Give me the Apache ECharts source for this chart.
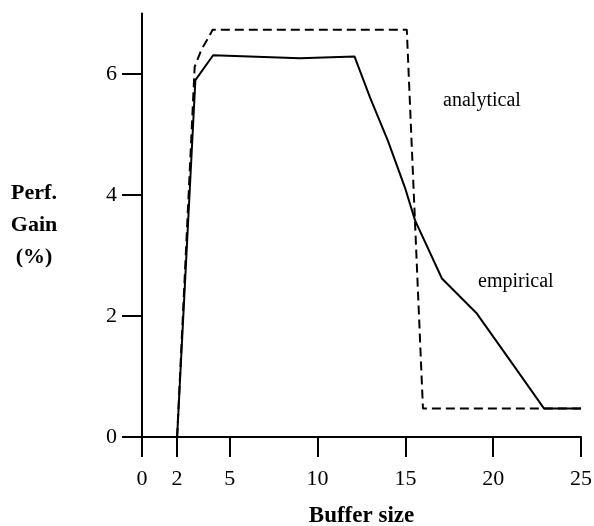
<!DOCTYPE html>
<html>
<head>
<meta charset="utf-8">
<script src="https://cdn.jsdelivr.net/npm/echarts@6/dist/echarts.min.js"></script>
<style>
  html, body { margin: 0; padding: 0; background: #fff; }
  #chart { width: 594px; height: 526px; }
</style>
</head>
<body>
<div id="chart"></div>
<script>
// values
var empiricalX = [2, 3.04, 4.05, 9, 12.1, 13, 14, 15, 15.55, 17.08, 19.07, 21.07, 22.9, 25];
var empiricalY = [0, 5.9, 6.31, 6.26, 6.29, 5.6, 4.9, 4.1, 3.58, 2.62, 2.04, 1.22, 0.47, 0.47];
var analyticalX = [2, 3.0, 3.38, 3.8, 4.02, 15.08, 16.0, 25];
var analyticalY = [0, 6.12, 6.4, 6.61, 6.73, 6.73, 0.47, 0.47];
var xTicks = [0, 2, 5, 10, 15, 20, 25];
var yTicks = [0, 2, 4, 6];

function zip(xs, ys) {
  return xs.map(function (x, i) { return [x, ys[i]]; });
}

var serif = "'Liberation Serif', 'DejaVu Serif', serif";

var myChart = echarts.init(document.getElementById("chart"));

var option = {
  backgroundColor: "#fff",
  animation: false,
  grid: {
    left: 142,
    right: 13,
    top: 13.5,
    bottom: 89,
    outerBoundsMode: "none",
    containLabel: false
  },
  xAxis: {
    type: "value",
    min: 0,
    max: 25,
    name: "Buffer size",
    nameLocation: "middle",
    nameGap: 68,
    nameTextStyle: { color: "#000", fontFamily: serif, fontWeight: "bold", fontSize: 23 },
    axisLine: { lineStyle: { color: "#000", width: 2 } },
    axisTick: { show: true, length: 20, lineStyle: { color: "#000", width: 2 }, customValues: xTicks },
    axisLabel: { color: "#000", fontFamily: serif, fontSize: 22, margin: 31, customValues: xTicks },
    splitLine: { show: false }
  },
  yAxis: {
    type: "value",
    min: 0,
    max: 7,
    name: "Perf.\nGain\n(%)",
    nameLocation: "middle",
    nameRotate: 0,
    nameGap: 108,
    nameTextStyle: {
      color: "#000", fontFamily: serif, fontWeight: "bold", fontSize: 22,
      align: "center", verticalAlign: "middle", lineHeight: 32
    },
    axisLine: { show: true, lineStyle: { color: "#000", width: 2 } },
    axisTick: { show: true, length: 20, lineStyle: { color: "#000", width: 2 }, customValues: yTicks },
    axisLabel: { color: "#000", fontFamily: serif, fontSize: 22, margin: 25, customValues: yTicks },
    splitLine: { show: false }
  },
  series: [
    {
      name: "analytical",
      type: "line",
      data: zip(analyticalX, analyticalY),
      symbol: "none",
      lineStyle: { color: "#000", width: 2, type: [9, 5] },
      markPoint: {
        symbol: "circle",
        symbolSize: 0,
        label: { show: true, position: "inside", formatter: "{b}", color: "#000", fontFamily: serif, fontSize: 20 },
        data: [{ name: "analytical", coord: [19.36, 5.55] }]
      }
    },
    {
      name: "empirical",
      type: "line",
      data: zip(empiricalX, empiricalY),
      symbol: "none",
      lineStyle: { color: "#000", width: 2 },
      markPoint: {
        symbol: "circle",
        symbolSize: 0,
        label: { show: true, position: "inside", formatter: "{b}", color: "#000", fontFamily: serif, fontSize: 20 },
        data: [{ name: "empirical", coord: [21.29, 2.56] }]
      }
    }
  ]
};

myChart.setOption(option);
</script>
</body>
</html>
